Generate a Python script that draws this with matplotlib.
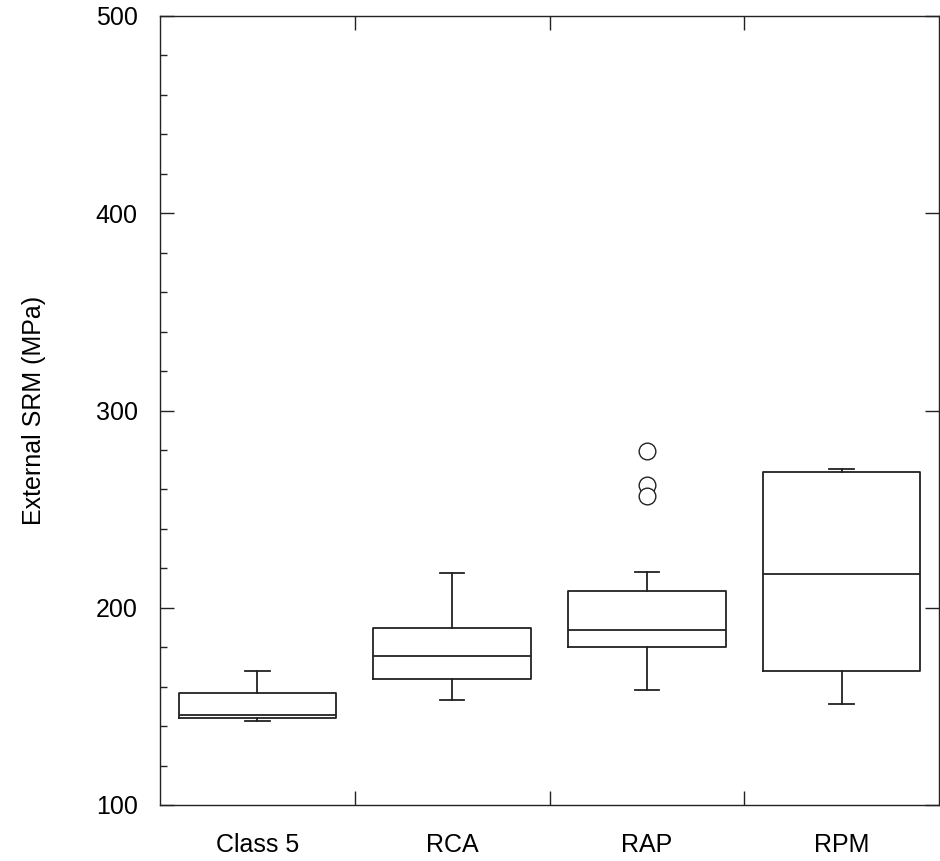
import matplotlib.pyplot as plt
from matplotlib.ticker import MultipleLocator, FixedLocator, NullFormatter

plt.rcParams['font.family'] = ['Liberation Sans', 'DejaVu Sans']

# values (MPa)
groups = ["Class 5", "RCA", "RAP", "RPM"]
whisker_low = [142.7, 153.4, 158.5, 151.4]
q1 = [144.3, 164.1, 180.1, 167.8]
median = [145.6, 175.5, 188.7, 217.1]
q3 = [157.0, 189.6, 208.7, 268.8]
whisker_high = [168.1, 217.5, 218.1, 270.5]
outliers = [[], [], [279.7, 262.2, 256.7], []]

stats = []
for i, name in enumerate(groups):
    stats.append({
        "label": name,
        "whislo": whisker_low[i],
        "q1": q1[i],
        "med": median[i],
        "q3": q3[i],
        "whishi": whisker_high[i],
        "fliers": outliers[i],
    })

ink = "#222222"
fig = plt.figure(figsize=(9.4, 8.61), dpi=100)
ax = fig.add_axes([160 / 940, 1 - 805 / 861, 779 / 940, 789 / 861])

ax.bxp(stats, positions=[1, 2, 3, 4], widths=0.81, capwidths=0.125,
       boxprops=dict(color=ink, linewidth=1.3),
       medianprops=dict(color=ink, linewidth=1.3),
       whiskerprops=dict(color=ink, linewidth=1.3),
       capprops=dict(color=ink, linewidth=1.3),
       flierprops=dict(marker="o", markersize=12, markerfacecolor="white",
                       markeredgecolor=ink, markeredgewidth=1.0))

ax.set_xlim(0.5, 4.5)
ax.set_ylim(100, 500)

# y ticks
ax.yaxis.set_major_locator(MultipleLocator(100))
ax.yaxis.set_minor_locator(MultipleLocator(20))
ax.tick_params(axis="y", which="major", direction="in", length=10, width=1.0,
               color=ink, left=True, right=True, labelsize=18, pad=16)
ax.tick_params(axis="y", which="minor", direction="in", length=5, width=1.0,
               color=ink, left=True, right=False)

# x ticks: marks at group boundaries, labels at group centres
ax.xaxis.set_major_locator(FixedLocator([1.5, 2.5, 3.5]))
ax.xaxis.set_major_formatter(NullFormatter())
ax.xaxis.set_minor_locator(FixedLocator([1, 2, 3, 4]))
ax.set_xticklabels(groups, minor=True)
ax.tick_params(axis="x", which="major", direction="in", length=10, width=1.0,
               color=ink, top=True, bottom=True)
ax.tick_params(axis="x", which="minor", length=0, labelsize=18, pad=20)

for s in ax.spines.values():
    s.set_color(ink)
    s.set_linewidth(1.0)

ax.set_ylabel("External SRM (MPa)", fontsize=18, labelpad=36)

plt.savefig("out.png", dpi=100)
